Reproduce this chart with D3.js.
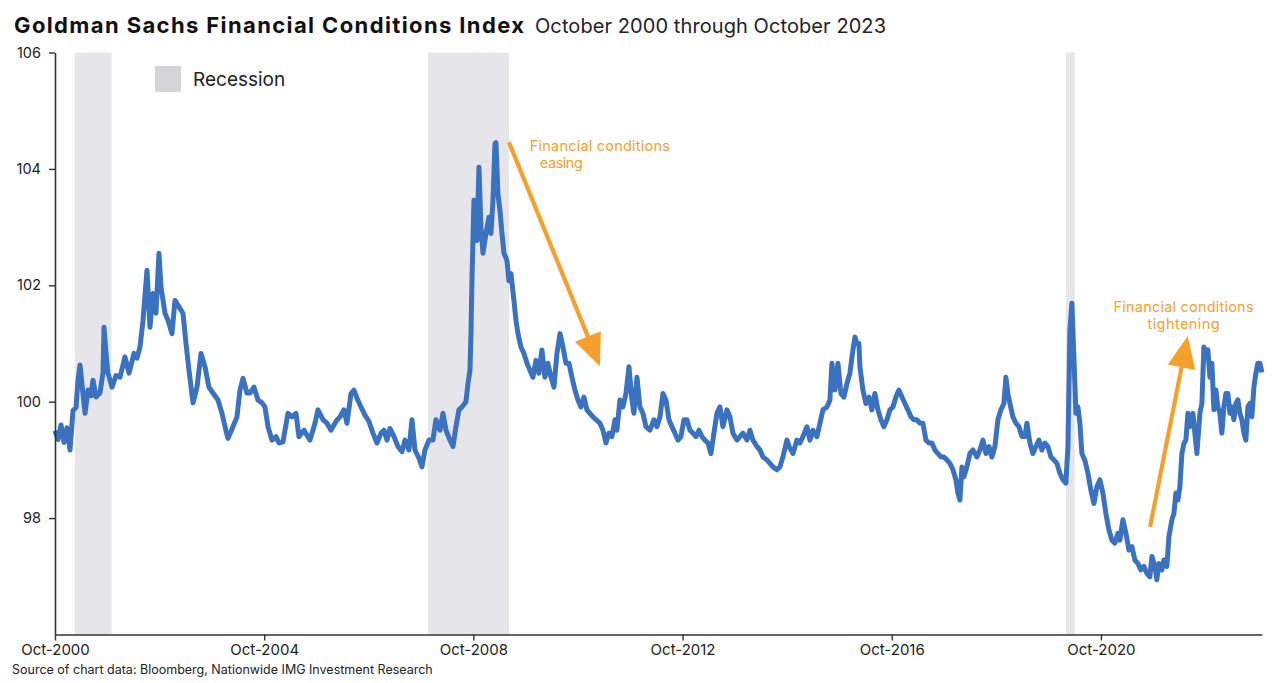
<!DOCTYPE html>
<html><head><meta charset="utf-8">
<script src="https://cdn.jsdelivr.net/npm/d3@7"></script>
<style>
body{margin:0;background:#fff;}
svg{display:block;font-family:Inter,"Open Sans",sans-serif;}
</style>
</head><body><svg id="chart" width="1280" height="683"></svg>
<script>
const title = "Goldman Sachs Financial Conditions Index";
const subtitle = "October 2000 through October 2023";
const sourceNote = "Source of chart data: Bloomberg, Nationwide IMG Investment Research";
const legendLabel = "Recession";
const yTicks = [98, 100, 102, 104, 106];
const xTickYears = [2000.75, 2004.75, 2008.75, 2012.75, 2016.75, 2020.75];
const xTickLabels = ["Oct-2000", "Oct-2004", "Oct-2008", "Oct-2012", "Oct-2016", "Oct-2020"];
const recessionStart = [2001.13, 2007.88, 2020.08];
const recessionEnd = [2001.83, 2009.43, 2020.25];

const years = [
2000.750,2000.807,2000.865,2000.922,2000.979,2001.037,2001.094,2001.152,2001.190,2001.228,
2001.266,2001.324,2001.381,2001.438,2001.477,2001.534,2001.610,2001.668,2001.687,2001.725,
2001.763,2001.840,2001.916,2001.993,2002.088,2002.165,2002.260,2002.318,2002.375,2002.433,
2002.509,2002.566,2002.624,2002.681,2002.738,2002.777,2002.853,2002.911,2002.987,2003.044,
2003.121,2003.197,2003.255,2003.312,2003.389,2003.465,2003.542,2003.618,2003.694,2003.771,
2003.867,2003.943,2004.020,2004.058,2004.153,2004.230,2004.287,2004.345,2004.421,2004.478,
2004.555,2004.631,2004.708,2004.765,2004.823,2004.899,2004.976,2005.033,2005.109,2005.205,
2005.281,2005.358,2005.415,2005.511,2005.626,2005.721,2005.779,2005.874,2005.951,2006.027,
2006.123,2006.199,2006.276,2006.333,2006.410,2006.467,2006.524,2006.601,2006.677,2006.754,
2006.830,2006.907,2006.983,2007.040,2007.098,2007.155,2007.232,2007.308,2007.385,2007.442,
2007.518,2007.576,2007.633,2007.710,2007.767,2007.824,2007.901,2007.977,2008.035,2008.111,
2008.169,2008.226,2008.302,2008.360,2008.417,2008.474,2008.532,2008.608,2008.647,2008.685,
2008.704,2008.723,2008.761,2008.819,2008.857,2008.895,2008.933,2008.991,2009.048,2009.086,
2009.125,2009.163,2009.182,2009.220,2009.258,2009.297,2009.335,2009.392,2009.430,2009.469,
2009.526,2009.564,2009.603,2009.660,2009.717,2009.775,2009.832,2009.889,2009.947,2010.004,
2010.061,2010.119,2010.176,2010.234,2010.291,2010.348,2010.406,2010.463,2010.520,2010.578,
2010.635,2010.692,2010.750,2010.807,2010.864,2010.922,2010.979,2011.037,2011.094,2011.170,
2011.228,2011.285,2011.342,2011.400,2011.457,2011.495,2011.553,2011.610,2011.668,2011.725,
2011.782,2011.820,2011.878,2011.935,2011.993,2012.050,2012.126,2012.203,2012.260,2012.318,
2012.375,2012.432,2012.490,2012.547,2012.604,2012.662,2012.719,2012.777,2012.834,2012.891,
2012.949,2013.006,2013.063,2013.121,2013.178,2013.235,2013.293,2013.350,2013.407,2013.465,
2013.522,2013.599,2013.656,2013.713,2013.790,2013.847,2013.905,2013.981,2014.038,2014.096,
2014.172,2014.230,2014.287,2014.363,2014.421,2014.478,2014.555,2014.612,2014.669,2014.746,
2014.803,2014.861,2014.937,2014.994,2015.052,2015.128,2015.186,2015.243,2015.319,2015.377,
2015.434,2015.511,2015.568,2015.606,2015.664,2015.721,2015.778,2015.836,2015.893,2015.950,
2016.008,2016.046,2016.084,2016.122,2016.142,2016.199,2016.256,2016.314,2016.371,2016.428,
2016.486,2016.543,2016.600,2016.658,2016.715,2016.773,2016.830,2016.887,2016.945,2017.002,
2017.059,2017.117,2017.174,2017.231,2017.289,2017.346,2017.404,2017.461,2017.518,2017.576,
2017.633,2017.690,2017.748,2017.805,2017.862,2017.920,2017.977,2018.015,2018.054,2018.092,
2018.130,2018.187,2018.245,2018.302,2018.379,2018.436,2018.493,2018.551,2018.608,2018.665,
2018.723,2018.780,2018.838,2018.895,2018.933,2018.971,2019.010,2019.067,2019.124,2019.182,
2019.239,2019.296,2019.335,2019.392,2019.449,2019.507,2019.564,2019.621,2019.679,2019.736,
2019.794,2019.851,2019.908,2019.966,2020.023,2020.080,2020.119,2020.157,2020.195,2020.233,
2020.272,2020.310,2020.348,2020.386,2020.444,2020.501,2020.558,2020.616,2020.673,2020.730,
2020.788,2020.845,2020.902,2020.960,2021.017,2021.075,2021.113,2021.170,2021.228,2021.285,
2021.342,2021.400,2021.457,2021.514,2021.572,2021.629,2021.686,2021.725,2021.782,2021.820,
2021.858,2021.916,2021.954,2022.011,2022.050,2022.107,2022.145,2022.184,2022.222,2022.260,
2022.298,2022.337,2022.375,2022.413,2022.451,2022.509,2022.547,2022.585,2022.642,2022.681,
2022.719,2022.757,2022.795,2022.834,2022.872,2022.910,2022.948,2022.987,2023.025,2023.063,
2023.101,2023.140,2023.178,2023.216,2023.254,2023.292,2023.331,2023.369,2023.407,2023.445,
2023.484,2023.522,2023.560,2023.598,2023.637,2023.675,2023.713,2023.751,2023.790,2023.828
];

const fci = [
99.5,99.35,99.6,99.3,99.55,99.17,99.85,99.9,100.37,100.63,
100.3,99.8,100.2,100.1,100.37,100.08,100.15,100.5,101.28,100.84,
100.49,100.25,100.45,100.42,100.77,100.49,100.83,100.75,100.94,101.4,
102.26,101.28,101.86,101.52,102.55,101.97,101.52,101.4,101.17,101.74,
101.63,101.52,101.0,100.54,99.98,100.25,100.83,100.6,100.25,100.15,
100.03,99.8,99.5,99.37,99.57,99.74,100.2,100.4,100.15,100.15,
100.25,100.03,99.98,99.91,99.57,99.34,99.4,99.29,99.31,99.8,
99.74,99.8,99.4,99.51,99.34,99.63,99.86,99.69,99.63,99.51,
99.66,99.74,99.86,99.63,100.14,100.2,100.06,99.91,99.77,99.66,
99.46,99.29,99.46,99.51,99.34,99.54,99.4,99.23,99.14,99.34,
99.17,99.69,99.17,99.03,98.88,99.17,99.34,99.34,99.69,99.51,
99.8,99.51,99.34,99.23,99.57,99.86,99.91,100.0,100.31,100.54,
101.17,102.08,103.46,102.77,104.03,103.0,102.55,102.89,103.17,102.89,
103.46,104.43,104.45,103.57,103.29,102.89,102.55,102.43,102.08,102.2,
101.74,101.4,101.17,100.94,100.83,100.66,100.54,100.42,100.71,100.49,
100.89,100.42,100.66,100.42,100.25,100.83,101.17,100.94,100.66,100.66,
100.42,100.2,100.03,99.91,100.08,99.86,99.8,99.74,99.69,99.63,
99.51,99.29,99.46,99.4,99.69,99.51,100.03,99.91,100.14,100.6,
100.03,99.8,100.42,99.91,99.8,99.57,99.51,99.69,99.57,99.74,
100.14,100.03,99.69,99.57,99.46,99.34,99.4,99.69,99.69,99.51,
99.46,99.4,99.51,99.4,99.34,99.29,99.11,99.46,99.8,99.91,
99.57,99.86,99.74,99.46,99.34,99.4,99.46,99.34,99.51,99.34,
99.23,99.17,99.05,99.0,98.94,98.88,98.83,98.88,99.05,99.34,
99.2,99.11,99.34,99.29,99.4,99.57,99.34,99.51,99.4,99.63,
99.86,99.91,100.03,100.66,100.2,100.66,100.14,100.08,100.31,100.49,
100.89,101.11,101.0,101.0,100.6,100.2,99.97,100.08,99.86,100.14,
99.86,99.69,99.57,99.69,99.86,99.91,100.08,100.2,100.08,99.97,
99.86,99.74,99.69,99.69,99.63,99.63,99.34,99.29,99.29,99.17,
99.11,99.05,99.05,99.0,98.94,98.83,98.66,98.43,98.31,98.88,
98.71,98.88,99.11,99.17,99.05,99.17,99.34,99.11,99.23,99.05,
99.23,99.69,99.86,99.97,100.42,100.14,99.97,99.74,99.63,99.57,
99.4,99.4,99.63,99.29,99.11,99.23,99.34,99.17,99.29,99.23,
99.05,99.0,98.94,98.77,98.66,98.6,99.23,101.23,101.69,100.77,
99.8,99.91,99.63,99.11,98.99,98.77,98.48,98.25,98.54,98.66,
98.43,98.08,97.8,97.62,97.57,97.74,97.62,97.97,97.74,97.45,
97.51,97.28,97.22,97.11,97.17,97.05,96.99,97.34,97.17,96.94,
97.22,97.11,97.28,97.17,97.68,97.97,98.08,98.43,98.31,98.54,
99.11,99.28,99.34,99.8,99.57,99.8,99.46,99.11,99.8,99.97,
100.94,100.83,100.89,100.42,100.66,99.86,100.2,99.91,99.8,99.46,
99.91,100.14,100.14,99.8,99.91,99.69,99.97,100.03,99.8,99.69,
99.46,99.34,99.91,99.97,99.74,100.25,100.49,100.66,100.66,100.5
];

const annotations = [
  {lines: ["Financial conditions", "easing"], year: 2009.83, value: 104.31, anchor: "start", dx: [0, 10], widths: [140, 43],
   fromYear: 2009.43, fromValue: 104.46, toYear: 2011.17, toValue: 100.61},
  {lines: ["Financial conditions", "tightening"], year: 2022.33, value: 101.54, anchor: "middle", dx: [0, 0], widths: [140, 72],
   fromYear: 2021.69, fromValue: 97.85, toYear: 2022.41, toValue: 101.13}
];

const svg = d3.select("#chart");
const x = d3.scaleLinear().domain([2000.75, 2023.83]).range([55, 1262]);
const y = d3.scaleLinear().domain([96, 106]).range([634.5, 52.5]);

const orange = "#f6a02c";
const blue = "#3a72bf";

// recession bands
svg.append("g").selectAll("rect")
  .data(recessionStart.map((s, i) => [s, recessionEnd[i]]))
  .join("rect")
  .attr("x", d => x(d[0]))
  .attr("width", d => x(d[1]) - x(d[0]))
  .attr("y", y(106))
  .attr("height", y(96) - y(106))
  .attr("fill", "#e6e6ea");

// legend
svg.append("rect").attr("x", 155).attr("y", 66).attr("width", 26).attr("height", 26).attr("fill", "#d5d5d7");
svg.append("text").attr("x", 193).attr("y", 86).attr("font-size", 19).attr("fill", "#222").text(legendLabel);

// line
const data = years.map((yr, i) => ({yr, v: fci[i]}));
svg.append("path")
  .datum(data)
  .attr("fill", "none")
  .attr("stroke", blue)
  .attr("stroke-width", 5)
  .attr("stroke-linejoin", "round")
  .attr("d", d3.line().x(d => x(d.yr)).y(d => y(d.v)));

// axes
const yAxis = svg.append("g").attr("transform", `translate(${x.range()[0]},0)`)
  .call(d3.axisLeft(y).tickValues(yTicks).tickFormat(d3.format("d")).tickSize(6).tickSizeOuter(0).tickPadding(8));
const xAxis = svg.append("g").attr("transform", `translate(0,${y(96)})`)
  .call(d3.axisBottom(x).tickValues(xTickYears).tickFormat((d, i) => xTickLabels[i]).tickSize(6).tickSizeOuter(0).tickPadding(4));
[yAxis, xAxis].forEach(g => {
  g.select(".domain").attr("stroke", "#333").attr("stroke-width", 1.6);
  g.selectAll(".tick line").attr("stroke", "#333").attr("stroke-width", 1.4);
  g.selectAll(".tick text").attr("fill", "#222").attr("font-family", "Inter, sans-serif");
});
yAxis.selectAll(".tick text").attr("font-size", 14.5);
xAxis.selectAll(".tick text").attr("font-size", 15);

// title
svg.append("text").attr("x", 14).attr("y", 33).attr("fill", "#111")
  .attr("font-weight", 700).attr("font-size", 22)
  .attr("textLength", 510).attr("lengthAdjust", "spacing").text(title);
svg.append("text").attr("x", 535).attr("y", 33).attr("fill", "#222")
  .attr("font-size", 20)
  .attr("textLength", 351).attr("lengthAdjust", "spacing").text(subtitle);

// source
svg.append("text").attr("x", 12).attr("y", 674).attr("font-size", 12.5).attr("fill", "#222").text(sourceNote);

// annotations
annotations.forEach(a => {
  const x0 = x(a.fromYear), y0 = y(a.fromValue), x1 = x(a.toYear), y1 = y(a.toValue);
  const dxv = x1 - x0, dyv = y1 - y0, len = Math.hypot(dxv, dyv);
  const ux = dxv / len, uy = dyv / len;
  const headLen = 32, headW = 28;
  const bx = x1 - ux * headLen, by = y1 - uy * headLen;
  svg.append("line").attr("x1", x0).attr("y1", y0).attr("x2", bx + ux * 2).attr("y2", by + uy * 2)
    .attr("stroke", orange).attr("stroke-width", 4.2);
  svg.append("path")
    .attr("d", `M${x1},${y1}L${bx - uy * headW / 2},${by + ux * headW / 2}L${bx + uy * headW / 2},${by - ux * headW / 2}Z`)
    .attr("fill", orange);
  a.lines.forEach((ln, j) => {
    svg.append("text").attr("fill", orange).attr("font-size", 14.5).attr("text-anchor", a.anchor)
      .attr("x", x(a.year) + a.dx[j]).attr("y", y(a.value) + j * 17)
      .attr("textLength", a.widths[j]).attr("lengthAdjust", "spacing")
      .text(ln);
  });
});
</script>
</body></html>
